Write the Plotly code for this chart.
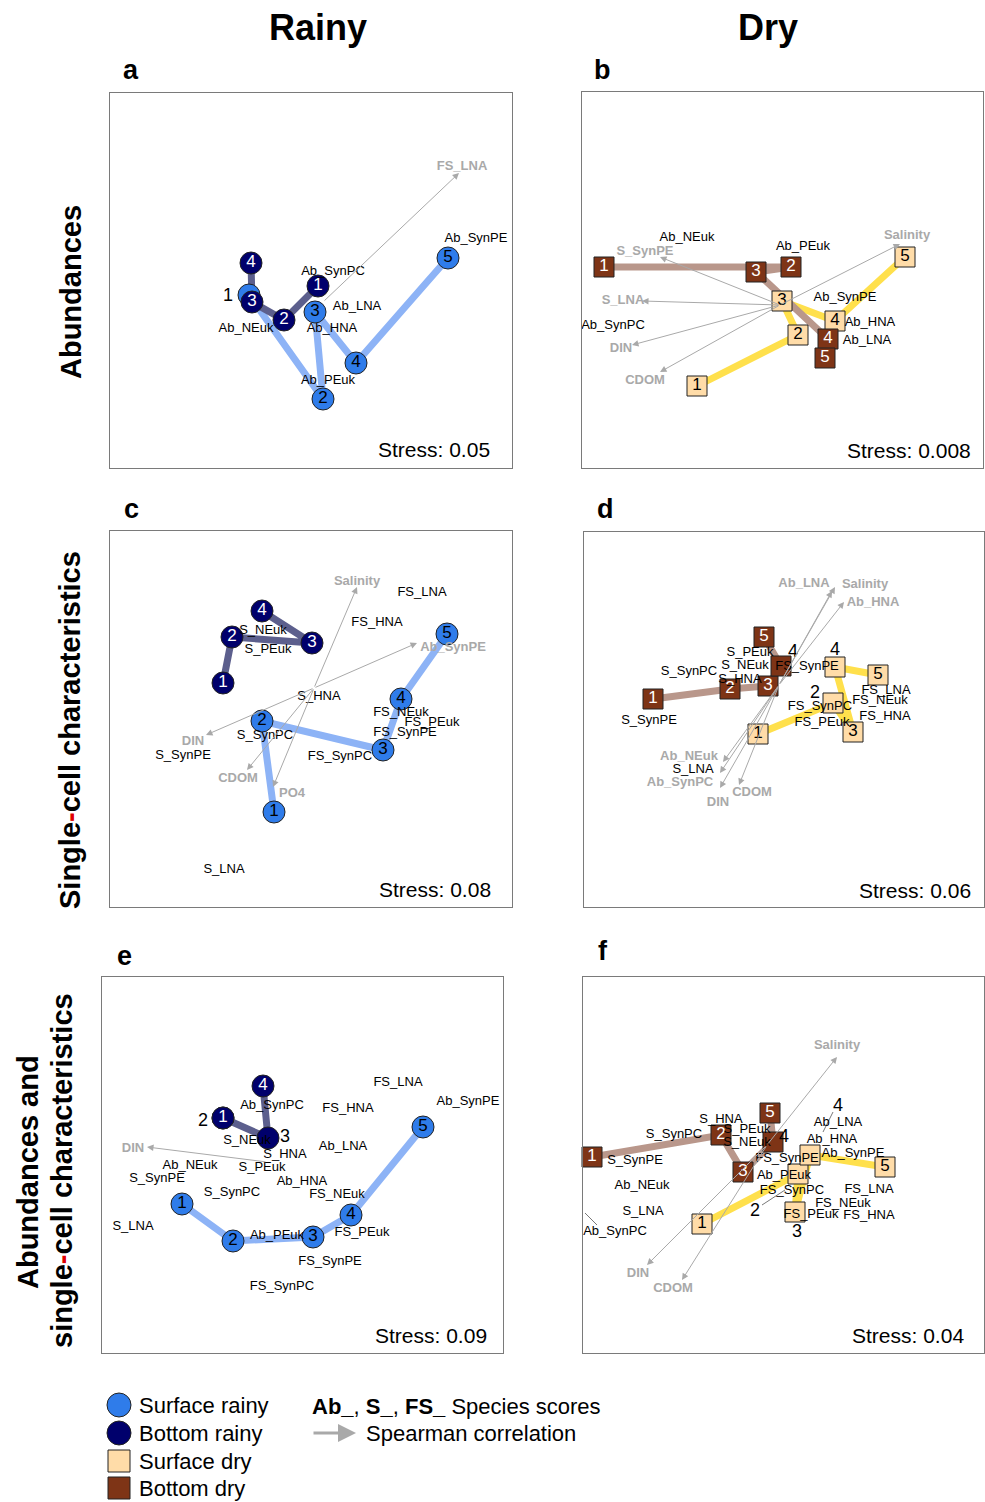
import plotly.graph_objects as go

W, H = 985, 1502
FONT = "Liberation Sans, Arial, sans-serif"

# ---------------- panel frames (page pixel space used as NMDS plotting space) ----------
PANELS = ["a", "b", "c", "d", "e", "f"]
BOX_L = [110, 582, 110, 584, 102, 583]
BOX_R = [512, 983, 512, 984, 503, 984]
BOX_T = [93, 92, 531, 532, 977, 977]
BOX_B = [468, 468, 907, 907, 1353, 1353]

# ---------------- panel a : Rainy, abundances ----------------
A_SURF_X = [249, 323, 315, 356, 448]
A_SURF_Y = [295, 399, 312, 363, 258]
A_SURF_T = ["", "2", "3", "4", "5"]
A_BOT_X = [318, 284, 252, 251]
A_BOT_Y = [286, 320, 302, 263]
A_BOT_T = ["1", "2", "3", "4"]
A_NUM_T = ["1"]
A_NUM_X = [228]
A_NUM_Y = [296]
A_SP_T = ["Ab_SynPC", "Ab_LNA", "Ab_HNA", "Ab_NEuk", "Ab_PEuk", "Ab_SynPE"]
A_SP_X = [333, 357, 332, 246, 328, 476]
A_SP_Y = [272, 307, 329, 329, 381, 239]
A_ORIG = [323, 302]
A_VEC_T = ["FS_LNA"]
A_VEC_X = [459]
A_VEC_Y = [173]
A_VLAB_X = [462]
A_VLAB_Y = [167]

# ---------------- panel b : Dry, abundances ----------------
B_SURF_X = [697, 798, 782, 835, 905]
B_SURF_Y = [386, 335, 301, 321, 257]
B_SURF_T = ["1", "2", "3", "4", "5"]
B_BOT_X = [604, 791, 756, 828, 825]
B_BOT_Y = [267, 267, 272, 339, 358]
B_BOT_T = ["1", "2", "3", "4", "5"]
B_NUM_T, B_NUM_X, B_NUM_Y = [], [], []
B_SP_T = ["Ab_NEuk", "Ab_PEuk", "Ab_SynPE", "Ab_HNA", "Ab_LNA", "Ab_SynPC"]
B_SP_X = [687, 803, 845, 870, 867, 613]
B_SP_Y = [238, 247, 298, 323, 341, 326]
B_ORIG = [780, 305]
B_VEC_T = ["S_SynPE", "S_LNA", "DIN", "CDOM", "Salinity"]
B_VEC_X = [660, 642, 632, 660, 900]
B_VEC_Y = [257, 301, 345, 372, 244]
B_VLAB_X = [645, 623, 621, 645, 907]
B_VLAB_Y = [252, 301, 349, 381, 236]

# ---------------- panel c : Rainy, single-cell ----------------
C_SURF_X = [274, 262, 383, 401, 447]
C_SURF_Y = [812, 721, 750, 699, 634]
C_SURF_T = ["1", "2", "3", "4", "5"]
C_BOT_X = [223, 232, 312, 262]
C_BOT_Y = [683, 637, 643, 611]
C_BOT_T = ["1", "2", "3", "4"]
C_NUM_T, C_NUM_X, C_NUM_Y = [], [], []
C_SP_T = ["FS_LNA", "FS_HNA", "S_NEuk", "S_PEuk", "S_HNA", "S_SynPC", "S_SynPE",
          "FS_NEuk", "FS_PEuk", "FS_SynPE", "FS_SynPC", "S_LNA"]
C_SP_X = [422, 377, 263, 268, 319, 265, 183, 401, 432, 405, 340, 224]
C_SP_Y = [593, 623, 631, 650, 697, 736, 756, 713, 723, 733, 757, 870]
C_ORIG = [314, 688]
C_VEC_T = ["Salinity", "PO4", "Ab_SynPE", "DIN", "CDOM"]
C_VEC_X = [357, 273, 417, 206, 247]
C_VEC_Y = [587, 787, 643, 735, 770]
C_VLAB_X = [357, 292, 453, 193, 238]
C_VLAB_Y = [582, 794, 648, 742, 779]

# ---------------- panel d : Dry, single-cell ----------------
D_SURF_X = [758, 833, 853, 835, 878]
D_SURF_Y = [734, 703, 732, 667, 675]
D_SURF_T = ["1", "", "3", "", "5"]
D_BOT_X = [653, 730, 768, 781, 764]
D_BOT_Y = [699, 689, 686, 666, 637]
D_BOT_T = ["1", "2", "3", "", "5"]
D_NUM_T = ["2", "4", "4"]
D_NUM_X = [815, 835, 793]
D_NUM_Y = [693, 650, 652]
D_SP_T = ["S_SynPE", "S_SynPC", "S_PEuk", "S_NEuk", "S_HNA", "FS_SynPE", "S_LNA",
          "FS_SynPC", "FS_PEuk", "FS_LNA", "FS_NEuk", "FS_HNA"]
D_SP_X = [649, 689, 750, 745, 740, 807, 693, 820, 822, 886, 880, 885]
D_SP_Y = [721, 672, 653, 666, 680, 667, 770, 707, 723, 691, 701, 717]
D_ORIG = [779, 685]
D_VEC_T = ["Salinity", "Ab_LNA", "Ab_HNA", "Ab_NEuk", "Ab_SynPC", "DIN", "CDOM"]
D_VEC_X = [835, 832, 844, 723, 720, 720, 739]
D_VEC_Y = [587, 591, 602, 762, 773, 788, 785]
D_VLAB_X = [865, 804, 873, 689, 680, 718, 752]
D_VLAB_Y = [585, 584, 603, 757, 783, 803, 793]

# ---------------- panel e : Rainy, abundances + single-cell ----------------
E_SURF_X = [182, 233, 313, 351, 423]
E_SURF_Y = [1204, 1241, 1237, 1215, 1127]
E_SURF_T = ["1", "2", "3", "4", "5"]
E_BOT_X = [223, 223, 268, 263]
E_BOT_Y = [1118, 1118, 1138, 1086]
E_BOT_T = ["1", "", "", "4"]
E_NUM_T = ["2", "3"]
E_NUM_X = [203, 285]
E_NUM_Y = [1121, 1137]
E_SP_T = ["Ab_SynPC", "FS_LNA", "Ab_SynPE", "FS_HNA", "S_NEuk", "S_HNA", "Ab_LNA",
          "S_PEuk", "Ab_NEuk", "S_SynPE", "Ab_HNA", "S_SynPC", "FS_NEuk", "S_LNA",
          "Ab_PEuk", "FS_PEuk", "FS_SynPE", "FS_SynPC"]
E_SP_X = [272, 398, 468, 348, 247, 285, 343, 262, 190, 157, 302, 232, 337, 133,
          277, 362, 330, 282]
E_SP_Y = [1106, 1083, 1102, 1109, 1141, 1155, 1147, 1168, 1166, 1179, 1182, 1193,
          1195, 1227, 1236, 1233, 1262, 1287]
E_ORIG = [267, 1162]
E_VEC_T = ["DIN"]
E_VEC_X = [147]
E_VEC_Y = [1147]
E_VLAB_X = [133]
E_VLAB_Y = [1149]

# ---------------- panel f : Dry, abundances + single-cell ----------------
F_SURF_X = [702, 798, 795, 810, 885]
F_SURF_Y = [1224, 1174, 1212, 1155, 1167]
F_SURF_T = ["1", "", "", "", "5"]
F_BOT_X = [592, 721, 743, 773, 770]
F_BOT_Y = [1157, 1135, 1172, 1142, 1113]
F_BOT_T = ["1", "2", "3", "", "5"]
F_NUM_T = ["2", "3", "4", "4"]
F_NUM_X = [755, 797, 838, 784]
F_NUM_Y = [1211, 1232, 1106, 1137]
F_SP_T = ["S_HNA", "S_SynPC", "S_PEuk", "S_NEuk", "S_SynPE", "Ab_NEuk", "S_LNA",
          "Ab_SynPC", "Ab_LNA", "Ab_HNA", "FS_SynPE", "Ab_SynPE", "Ab_PEuk",
          "FS_SynPC", "FS_LNA", "FS_NEuk", "FS_PEuk", "FS_HNA"]
F_SP_X = [721, 674, 747, 747, 635, 642, 643, 615, 838, 832, 787, 853, 784, 792,
          869, 843, 811, 869]
F_SP_Y = [1120, 1135, 1130, 1143, 1161, 1186, 1212, 1232, 1123, 1140, 1159, 1154,
          1176, 1191, 1190, 1204, 1215, 1216]
F_ORIG = [767, 1145]
F_VEC_T = ["Salinity", "DIN", "CDOM"]
F_VEC_X = [837, 647, 682]
F_VEC_Y = [1057, 1265, 1280]
F_VLAB_X = [837, 638, 673]
F_VLAB_Y = [1046, 1274, 1289]
F_LEAD_X = [[762, 785], [833, 823], [585, 597]]
F_LEAD_Y = [[1205, 1190], [1112, 1132], [1213, 1225]]

STRESS_T = ["Stress: 0.05", "Stress: 0.008", "Stress: 0.08", "Stress: 0.06",
            "Stress: 0.09", "Stress: 0.04"]
STRESS_X = [492, 973, 493, 973, 489, 966]
STRESS_Y = [450, 450, 889, 890, 1335, 1335]
LETTER_X = [131, 602, 131, 605, 125, 603]
LETTER_Y = [70, 70, 509, 509, 956, 951]

# ---------------- styles ----------------
RAINY_SURF = "#2F7CEA"
RAINY_BOT = "#00006C"
DRY_SURF = "#FFDCA8"
DRY_BOT = "#7E3416"
RAINY_SURF_LINE = "#8DB3F6"
RAINY_BOT_LINE = "#5C5F8D"
DRY_SURF_LINE = "#FFE04C"
DRY_BOT_LINE = "#B9978B"
VEC_COL = "#A9A9A9"

fig = go.Figure()
annotations = []

panel_data = {
    "a": (A_SURF_X, A_SURF_Y, A_SURF_T, A_BOT_X, A_BOT_Y, A_BOT_T, A_NUM_T, A_NUM_X, A_NUM_Y,
          A_SP_T, A_SP_X, A_SP_Y, A_ORIG, A_VEC_T, A_VEC_X, A_VEC_Y, A_VLAB_X, A_VLAB_Y, "rainy"),
    "b": (B_SURF_X, B_SURF_Y, B_SURF_T, B_BOT_X, B_BOT_Y, B_BOT_T, B_NUM_T, B_NUM_X, B_NUM_Y,
          B_SP_T, B_SP_X, B_SP_Y, B_ORIG, B_VEC_T, B_VEC_X, B_VEC_Y, B_VLAB_X, B_VLAB_Y, "dry"),
    "c": (C_SURF_X, C_SURF_Y, C_SURF_T, C_BOT_X, C_BOT_Y, C_BOT_T, C_NUM_T, C_NUM_X, C_NUM_Y,
          C_SP_T, C_SP_X, C_SP_Y, C_ORIG, C_VEC_T, C_VEC_X, C_VEC_Y, C_VLAB_X, C_VLAB_Y, "rainy"),
    "d": (D_SURF_X, D_SURF_Y, D_SURF_T, D_BOT_X, D_BOT_Y, D_BOT_T, D_NUM_T, D_NUM_X, D_NUM_Y,
          D_SP_T, D_SP_X, D_SP_Y, D_ORIG, D_VEC_T, D_VEC_X, D_VEC_Y, D_VLAB_X, D_VLAB_Y, "dry"),
    "e": (E_SURF_X, E_SURF_Y, E_SURF_T, E_BOT_X, E_BOT_Y, E_BOT_T, E_NUM_T, E_NUM_X, E_NUM_Y,
          E_SP_T, E_SP_X, E_SP_Y, E_ORIG, E_VEC_T, E_VEC_X, E_VEC_Y, E_VLAB_X, E_VLAB_Y, "rainy"),
    "f": (F_SURF_X, F_SURF_Y, F_SURF_T, F_BOT_X, F_BOT_Y, F_BOT_T, F_NUM_T, F_NUM_X, F_NUM_Y,
          F_SP_T, F_SP_X, F_SP_Y, F_ORIG, F_VEC_T, F_VEC_X, F_VEC_Y, F_VLAB_X, F_VLAB_Y, "dry"),
}

for i, p in enumerate(PANELS):
    n = i + 1
    xa = "x" if n == 1 else f"x{n}"
    ya = "y" if n == 1 else f"y{n}"
    (sx, sy, st, bx, by, bt, nt, nx, ny, spt, spx, spy, orig, vt, vx, vy, vlx, vly, season) = panel_data[p]
    if season == "rainy":
        sym, msize = "circle", 22
        scol, bcol, slc, blc = RAINY_SURF, RAINY_BOT, RAINY_SURF_LINE, RAINY_BOT_LINE
    else:
        sym, msize = "square", 20
        scol, bcol, slc, blc = DRY_SURF, DRY_BOT, DRY_SURF_LINE, DRY_BOT_LINE

    # trajectories
    fig.add_trace(go.Scatter(x=sx, y=sy, mode="lines", line=dict(color=slc, width=7),
                             xaxis=xa, yaxis=ya, hoverinfo="skip", showlegend=False))
    fig.add_trace(go.Scatter(x=bx, y=by, mode="lines", line=dict(color=blc, width=7),
                             xaxis=xa, yaxis=ya, hoverinfo="skip", showlegend=False))
    if p == "f":
        for lx, ly in zip(F_LEAD_X, F_LEAD_Y):
            fig.add_trace(go.Scatter(x=lx, y=ly, mode="lines", line=dict(color="#555555", width=0.8),
                                     xaxis=xa, yaxis=ya, hoverinfo="skip", showlegend=False))
    # samples
    fig.add_trace(go.Scatter(x=sx, y=sy, mode="markers+text", text=st,
                             textposition="middle center",
                             textfont=dict(family=FONT, size=17, color="black"),
                             marker=dict(symbol=sym, size=msize, color=scol, opacity=1,
                                         line=dict(color="#222222", width=1)),
                             xaxis=xa, yaxis=ya, cliponaxis=False, showlegend=False))
    fig.add_trace(go.Scatter(x=bx, y=by, mode="markers+text", text=bt,
                             textposition="middle center",
                             textfont=dict(family=FONT, size=17, color="white"),
                             marker=dict(symbol=sym, size=msize, color=bcol, opacity=1,
                                         line=dict(color="#222222", width=1)),
                             xaxis=xa, yaxis=ya, cliponaxis=False, showlegend=False))
    if nt:
        fig.add_trace(go.Scatter(x=nx, y=ny, mode="text", text=nt, textposition="middle center",
                                 textfont=dict(family=FONT, size=18, color="black"),
                                 xaxis=xa, yaxis=ya, cliponaxis=False, showlegend=False))
    # species scores
    fig.add_trace(go.Scatter(x=spx, y=spy, mode="text", text=spt, textposition="middle center",
                             textfont=dict(family=FONT, size=13, color="black"),
                             xaxis=xa, yaxis=ya, cliponaxis=False, showlegend=False))
    # vector labels
    fig.add_trace(go.Scatter(x=vlx, y=vly, mode="text", text=[f"<b>{t}</b>" for t in vt],
                             textposition="middle center",
                             textfont=dict(family=FONT, size=13, color=VEC_COL),
                             xaxis=xa, yaxis=ya, cliponaxis=False, showlegend=False))
    # vectors (Spearman correlations)
    for tx, ty in zip(vx, vy):
        annotations.append(dict(x=tx, y=ty, ax=orig[0], ay=orig[1], xref=xa, yref=ya,
                                axref=xa, ayref=ya, text="", showarrow=True, arrowhead=2,
                                arrowsize=1.3, arrowwidth=1, arrowcolor=VEC_COL))
    # stress
    annotations.append(dict(x=STRESS_X[i], y=STRESS_Y[i], xref=xa, yref=ya, text=STRESS_T[i],
                            showarrow=False, xanchor="right", yanchor="middle",
                            font=dict(family=FONT, size=21, color="black")))
    # panel letter
    annotations.append(dict(x=LETTER_X[i] / W, y=1 - LETTER_Y[i] / H, xref="paper", yref="paper",
                            text=f"<b>{p}</b>", showarrow=False, xanchor="center", yanchor="middle",
                            font=dict(family=FONT, size=27, color="black")))

    axis_common = dict(showgrid=False, zeroline=False, showticklabels=False, ticks="",
                       showline=True, mirror=True, linecolor="#7A7A7A", linewidth=1)
    fig.layout[f"xaxis{'' if n == 1 else n}"] = dict(domain=[BOX_L[i] / W, BOX_R[i] / W],
                                                      range=[BOX_L[i], BOX_R[i]],
                                                      anchor=ya, **axis_common)
    fig.layout[f"yaxis{'' if n == 1 else n}"] = dict(domain=[1 - BOX_B[i] / H, 1 - BOX_T[i] / H],
                                                      range=[BOX_B[i], BOX_T[i]],
                                                      anchor=xa, **axis_common)

# ---------------- column / row titles ----------------
COL_T = ["Rainy", "Dry"]
COL_X = [318, 768]
COL_Y = [27, 27]
for t, x, y in zip(COL_T, COL_X, COL_Y):
    annotations.append(dict(x=x / W, y=1 - y / H, xref="paper", yref="paper", text=f"<b>{t}</b>",
                            showarrow=False, xanchor="center", yanchor="middle",
                            font=dict(family=FONT, size=36, color="black")))

RED_DASH = "<span style='color:#E00000'>-</span>"
ROW_T = ["Abundances", f"Single{RED_DASH}cell characteristics", "Abundances and",
         f"single{RED_DASH}cell characteristics"]
ROW_X = [71, 70, 28, 62]
ROW_Y = [292, 730, 1172, 1171]
for t, x, y in zip(ROW_T, ROW_X, ROW_Y):
    annotations.append(dict(x=x / W, y=1 - y / H, xref="paper", yref="paper", text=f"<b>{t}</b>",
                            showarrow=False, xanchor="center", yanchor="middle", textangle=-90,
                            font=dict(family=FONT, size=29, color="black")))

# ---------------- legend (drawn on its own hidden axis) ----------------
LEG_T = ["Surface rainy", "Bottom rainy", "Surface dry", "Bottom dry"]
LEG_SYM = ["circle", "circle", "square", "square"]
LEG_COL = [RAINY_SURF, RAINY_BOT, DRY_SURF, DRY_BOT]
LEG_SIZE = [24, 24, 22, 22]
LEG_Y = [1405, 1433, 1461, 1488]
LEG_SYM_X = 119
LEG_TXT_X = 137
fig.add_trace(go.Scatter(x=[LEG_SYM_X] * 4, y=LEG_Y, mode="markers",
                         marker=dict(symbol=LEG_SYM, size=LEG_SIZE, color=LEG_COL, opacity=1,
                                     line=dict(color="#222222", width=1)),
                         xaxis="x7", yaxis="y7", cliponaxis=False, showlegend=False))
for t, y in zip(LEG_T, LEG_Y):
    annotations.append(dict(x=LEG_TXT_X, y=y, xref="x7", yref="y7", text=t, showarrow=False,
                            xanchor="left", yanchor="middle",
                            font=dict(family=FONT, size=22, color="black")))
annotations.append(dict(x=310, y=1406, xref="x7", yref="y7",
                        text="<b>Ab_</b>, <b>S_</b>, <b>FS_</b> Species scores", showarrow=False,
                        xanchor="left", yanchor="middle", font=dict(family=FONT, size=22, color="black")))
annotations.append(dict(x=356, y=1433, ax=312, ay=1433, xref="x7", yref="y7", axref="x7", ayref="y7",
                        text="", showarrow=True, arrowhead=2, arrowsize=1.2, arrowwidth=3,
                        arrowcolor=VEC_COL))
annotations.append(dict(x=364, y=1433, xref="x7", yref="y7", text="Spearman correlation",
                        showarrow=False, xanchor="left", yanchor="middle",
                        font=dict(family=FONT, size=22, color="black")))
fig.layout["xaxis7"] = dict(domain=[0, 1], range=[0, W], visible=False, anchor="y7")
fig.layout["yaxis7"] = dict(domain=[0, 1 - 1380 / H], range=[H, 1380], visible=False, anchor="x7")

fig.update_layout(width=W, height=H, margin=dict(l=0, r=0, t=0, b=0),
                  paper_bgcolor="white", plot_bgcolor="white", showlegend=False,
                  annotations=annotations, font=dict(family=FONT))

fig.write_html("out.html")
